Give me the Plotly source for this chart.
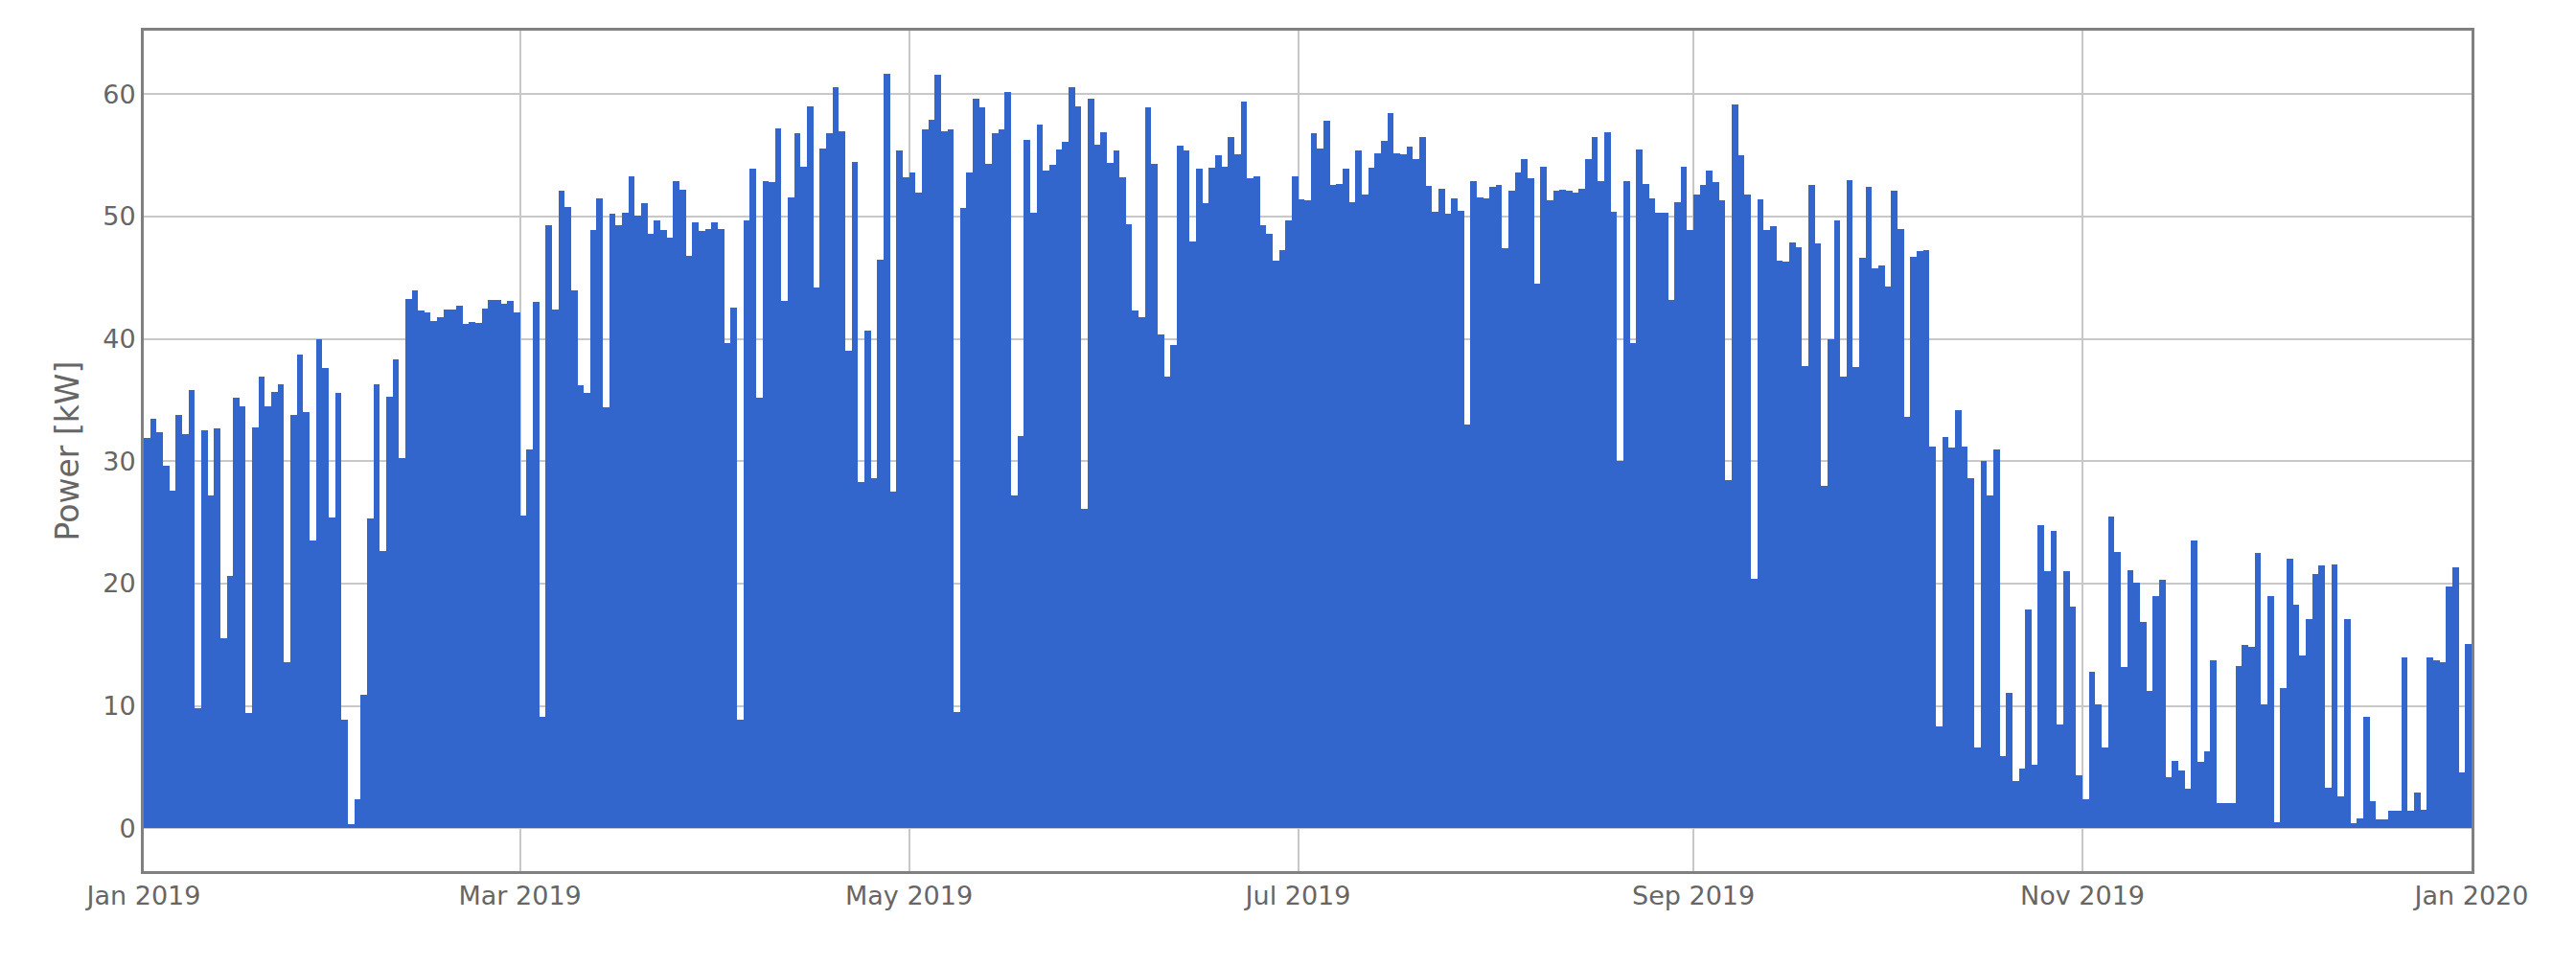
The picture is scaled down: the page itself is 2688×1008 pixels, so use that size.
import pandas as pd
import plotly.graph_objects as go

jan_feb = [31.9,33.5,32.4,29.6,27.6,33.8,32.2,35.8,9.8,32.5,27.2,32.7,15.5,20.6,35.2,34.5,9.4,32.8,36.9,34.5,
           35.7,36.3,13.6,33.8,38.7,34.0,23.5,40.0,37.6,25.4,35.6,8.9,0.3,2.4,10.9,25.3,36.3,22.7,35.3,38.3,
           30.3,43.3,44.0,42.3,42.2,41.5,41.8,42.4,42.4,42.7,41.2,41.4,41.3,42.5,43.2,43.2,42.9,43.1,42.2]
mar_apr = [25.6,31.0,43.0,9.1,49.3,42.4,52.1,50.8,44.0,36.2,35.6,48.9,51.5,34.4,50.2,49.3,50.3,53.3,50.1,51.1,
           48.6,49.7,48.9,48.3,52.9,52.2,46.8,49.5,48.8,49.0,49.5,49.0,39.7,42.6,8.9,49.7,53.9,35.2,52.9,52.8,
           57.2,43.1,51.6,56.8,54.1,59.0,44.2,55.6,56.8,60.6,57.0,39.0,54.5,28.3,40.7,28.6,46.5,61.7,27.5,55.4,53.2]
may_jun = [53.6,52.0,57.1,57.9,61.6,57.0,57.1,9.5,50.7,53.6,59.6,58.9,54.3,56.8,57.1,60.2,27.2,32.1,56.3,50.3,
           57.5,53.8,54.2,55.5,56.1,60.6,59.0,26.1,59.6,55.9,56.9,54.4,55.4,53.2,49.4,42.3,41.8,58.9,54.3,40.4,
           36.9,39.5,55.8,55.4,48.0,53.9,51.1,54.0,55.0,54.1,56.5,55.1,59.4,53.1,53.3,49.3,48.6,46.4,47.3,49.7,53.3]
jul_aug = [51.4,51.3,56.8,55.6,57.8,52.6,52.7,53.9,51.2,55.4,51.8,54.0,55.2,56.2,58.5,55.2,55.1,55.7,54.7,56.5,
           52.5,50.4,52.3,50.2,51.5,50.5,33.0,52.9,51.6,51.5,52.4,52.6,47.4,52.1,53.6,54.7,53.1,44.5,54.1,51.3,
           52.1,52.2,52.1,52.0,52.3,54.7,56.5,52.9,56.9,50.4,30.0,52.9,39.7,55.5,52.7,51.5,50.3,50.3,43.2,51.2,
           54.1,48.9]
sep_oct = [51.8,52.6,53.8,52.8,51.3,28.5,59.2,55.0,51.8,20.4,51.4,48.9,49.2,46.4,46.3,47.9,47.5,37.8,52.6,47.8,
           28.0,40.0,49.7,36.9,53.0,37.7,46.6,52.4,45.8,46.0,44.3,52.1,49.0,33.6,46.7,47.2,47.3,31.2,8.3,32.0,
           31.1,34.2,31.2,28.6,6.6,30.0,27.2,31.0,5.9,11.1,3.9,4.9,17.9,5.2,24.8,21.0,24.3,8.5,21.0,18.1,4.3]
nov_dec = [2.4,12.8,10.1,6.6,25.5,22.6,13.2,21.1,20.1,16.9,11.2,19.0,20.3,4.2,5.5,4.7,3.2,23.5,5.4,6.3,
           13.7,2.1,2.1,2.1,13.3,15.0,14.8,22.5,10.1,19.0,0.5,11.5,22.0,18.3,14.1,17.1,20.8,21.5,3.3,21.6,
           2.6,17.1,0.4,0.8,9.1,2.2,0.7,0.7,1.4,1.4,14.0,1.4,2.9,1.5,14.0,13.7,13.6,19.8,21.3,4.6,15.1]

power = jan_feb + mar_apr + may_jun + jul_aug + sep_oct + nov_dec
dates = pd.date_range("2019-01-01", periods=len(power), freq="D") + pd.Timedelta(hours=12)

fig = go.Figure(go.Bar(x=dates, y=power, width=86400000, marker=dict(color="#3366CC", line=dict(width=0))))

axis_common = dict(showline=True, linecolor="#808080", linewidth=3, mirror=True,
                   gridcolor="#C8C8C8", gridwidth=2, zeroline=False,
                   tickfont=dict(size=27, color="#666666"), ticks="")
fig.update_layout(
    width=2688, height=1008, plot_bgcolor="white", paper_bgcolor="white",
    font=dict(family="DejaVu Sans", color="#666666"),
    margin=dict(l=142, r=117, t=24, b=107), bargap=0, showlegend=False,
    xaxis=dict(range=["2019-01-01", "2020-01-01"], dtick="M2", tick0="2019-01-01",
               tickformat="%b %Y", **axis_common),
    yaxis=dict(range=[-3.5, 65.2], dtick=10, title=dict(text="Power [kW]", font=dict(size=33, color="#666666")),
               **axis_common),
)
fig.write_html("out.html")
